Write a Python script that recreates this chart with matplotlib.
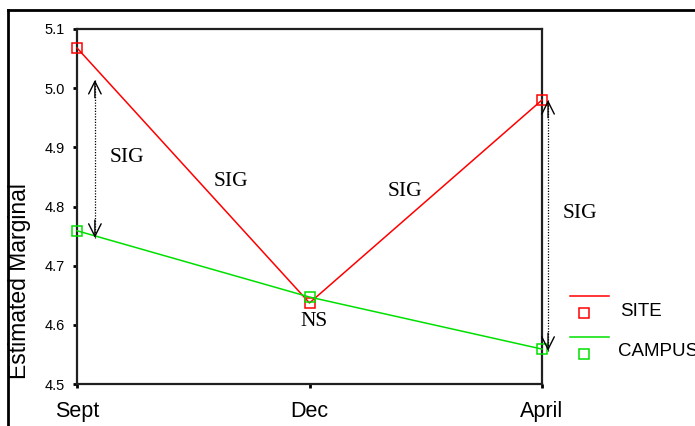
import matplotlib.pyplot as plt
from matplotlib.lines import Line2D

# Estimated marginal means by term
terms = ["Sept", "Dec", "April"]
site = [5.068, 4.637, 4.980]
campus = [4.759, 4.647, 4.559]
y_ticks = [4.5, 4.6, 4.7, 4.8, 4.9, 5.0, 5.1]

# significance arrows: (x, low, high) and label positions
arrows = [(0.077, 4.747, 5.014), (2.026, 4.556, 4.980)]
notes = [("SIG", 0.215, 4.882), ("SIG", 0.662, 4.843), ("SIG", 1.411, 4.826),
         ("SIG", 2.163, 4.789), ("NS", 1.02, 4.605)]

W, H = 695, 426
fig = plt.figure(figsize=(W / 100, H / 100), dpi=100)
ax = fig.add_axes([77 / W, 1 - 384 / H, (542 - 77) / W, (384 - 29) / H])

x = list(range(len(terms)))
ax.plot(x, site, color="#ff0000", lw=1.1, marker="s", ms=7, mfc="none",
        mec="#ff0000", mew=1.1, clip_on=False, zorder=3)
ax.plot(x, campus, color="#00e000", lw=1.1, marker="s", ms=7, mfc="none",
        mec="#00e000", mew=1.1, clip_on=False, zorder=3)

ax.set_xlim(0, 2)
ax.set_ylim(4.5, 5.1)
ax.set_xticks(x)
ax.set_xticklabels(terms, fontsize=15.5, family="Liberation Sans")
ax.set_yticks(y_ticks)
ax.set_yticklabels([f"{v:.1f}" for v in y_ticks], fontsize=10.5, family="Liberation Sans")
ax.tick_params(axis="both", length=3, width=2, color="black", direction="out")
ax.tick_params(axis="x", pad=9)
ax.tick_params(axis="y", pad=6)
for side in ax.spines:
    ax.spines[side].set_linewidth(1.6)
    ax.spines[side].set_color("#202020")

# dotted arrows between the two groups
for ax_x, lo, hi in arrows:
    ax.plot([ax_x, ax_x], [lo, hi], ls=(0, (1, 1.2)), color="black", lw=0.9, clip_on=False)
    for tip, start in ((hi, hi - 0.03), (lo, lo + 0.03)):
        ax.annotate("", xy=(ax_x, tip), xytext=(ax_x, start), annotation_clip=False,
                    arrowprops=dict(arrowstyle="->,head_length=0.9,head_width=0.45",
                                    color="black", lw=1.0, shrinkA=0, shrinkB=0))

for txt, tx, ty in notes:
    ax.text(tx, ty, txt, fontsize=15.5, family="Liberation Serif",
            ha="center", va="center", clip_on=False)

fig.text(20 / W, 1 - 281 / H, "Estimated Marginal", rotation=90, fontsize=16.5,
         family="Liberation Sans", ha="center", va="center")

# legend drawn in figure pixels
def fx(px):
    return px / W

def fy(py):
    return 1 - py / H

for col, ly, label, tx, ty in (("#ff0000", 296, "SITE", 620, 312),
                               ("#00e000", 337, "CAMPUS", 618, 352)):
    fig.add_artist(Line2D([fx(570), fx(609)], [fy(ly), fy(ly)], color=col, lw=1.1))
    fig.add_artist(Line2D([fx(584)], [fy(ly + 17)], marker="s", ms=7, mfc="none",
                          mec=col, mew=1.1, ls="none"))
    fig.text(fx(tx), fy(ty), label, fontsize=13.5, family="Liberation Sans",
             va="center", ha="left")

# outer frame
fig.add_artist(Line2D([fx(8), fx(8)], [fy(10), 0], color="black", lw=2))
fig.add_artist(Line2D([fx(8), 1], [fy(10), fy(10)], color="black", lw=2))

fig.savefig("out.png", dpi=100)
